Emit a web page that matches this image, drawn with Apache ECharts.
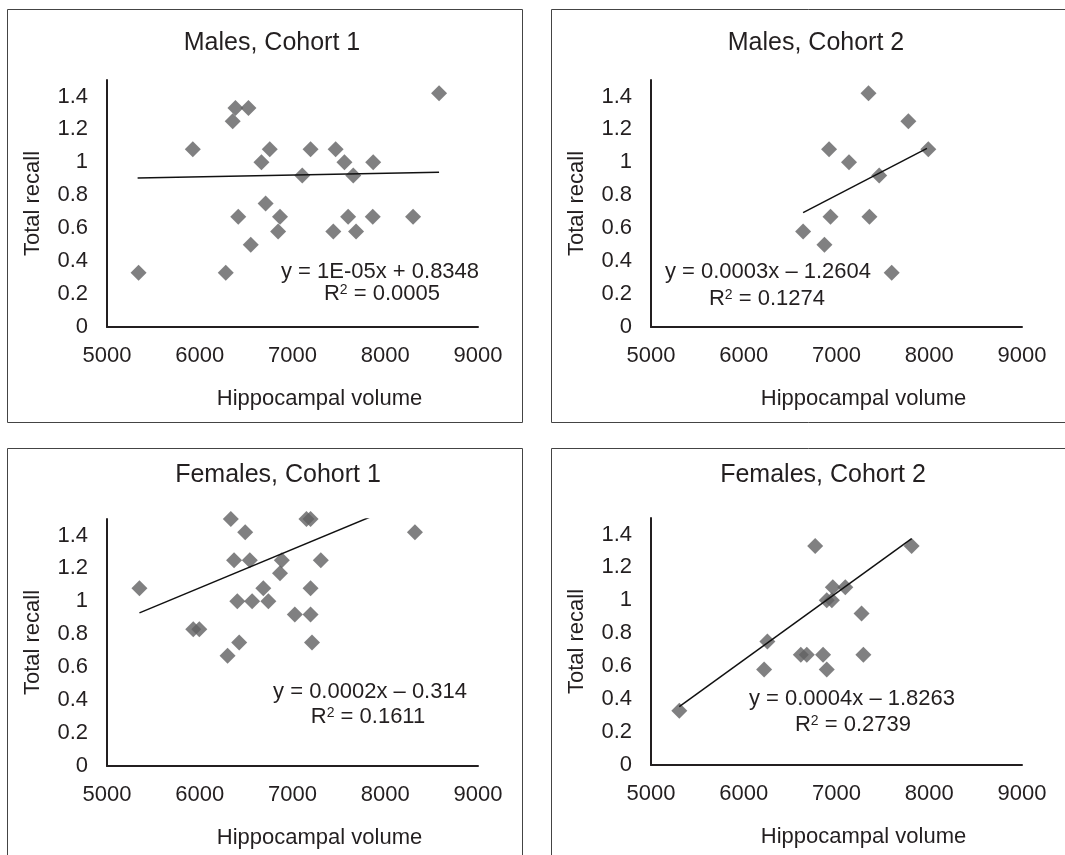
<!DOCTYPE html>
<html>
<head>
<meta charset="utf-8">
<script src="https://cdn.jsdelivr.net/npm/echarts@6/dist/echarts.min.js"></script>
<style>
html,body{margin:0;padding:0;background:#fff;}
#chart{width:1065px;height:855px;}
</style>
</head>
<body>
<div id="chart"></div>
<script>
// ---- Data ----
const panelTitles = ['Males, Cohort 1', 'Males, Cohort 2', 'Females, Cohort 1', 'Females, Cohort 2'];
const xAxisName = 'Hippocampal volume';
const yAxisName = 'Total recall';

const males1 = [[5340,0.33],[6280,0.33],[5925,1.08],[6385,1.33],[6525,1.33],[6355,1.25],[8580,1.42],[6755,1.08],[6665,1.0],[7195,1.08],[7465,1.08],[7560,1.0],[7870,1.0],[7105,0.92],[7655,0.92],[6710,0.75],[6415,0.67],[6865,0.67],[7600,0.67],[7865,0.67],[8300,0.67],[6845,0.58],[7440,0.58],[7685,0.58],[6550,0.5]];
const males2 = [[7345,1.42],[7775,1.25],[7990,1.08],[6920,1.08],[7135,1.0],[7460,0.92],[6935,0.67],[7355,0.67],[6640,0.58],[6870,0.5],[7595,0.33]];
const females1 = [[5350,1.08],[6335,1.5],[6490,1.42],[7150,1.5],[7195,1.5],[8320,1.42],[6370,1.25],[6540,1.25],[6885,1.25],[7305,1.25],[6865,1.17],[6685,1.08],[7195,1.08],[6405,1.0],[6565,1.0],[6740,1.0],[7025,0.92],[7195,0.92],[5930,0.83],[5995,0.83],[6425,0.75],[7210,0.75],[6300,0.67]];
const females2 = [[5305,0.33],[6770,1.33],[7810,1.33],[6960,1.08],[7095,1.08],[6895,1.0],[6950,1.0],[7270,0.92],[6255,0.75],[6615,0.67],[6680,0.67],[6855,0.67],[7290,0.67],[6220,0.58],[6895,0.58]];

// trend line end points
const males1Trend = [[5330,0.905],[8580,0.94]];
const males2Trend = [[6640,0.695],[7975,1.085]];
const females1Trend = [[5350,0.93],[8320,1.625]];
const females2Trend = [[5305,0.355],[7810,1.375]];

const equations = ['y = 1E-05x + 0.8348', 'y = 0.0003x \u2013 1.2604', 'y = 0.0002x \u2013 0.314', 'y = 0.0004x \u2013 1.8263'];
const rSquared = ['0.0005', '0.1274', '0.1611', '0.2739'];

const xMin = 5000, xMax = 9000, xStep = 1000;
const yMin = 0, yMax = 1.5, yStep = 0.2;

// ---- Layout ----
const FONT = '"Liberation Sans", Arial, Helvetica, sans-serif';
const TXT = '#231f20';
const MARK = '#606062';
const grids = [
  {left:107, top:80, width:371, height:247},
  {left:651, top:80, width:371, height:247},
  {left:107, top:519, width:371, height:247},
  {left:651, top:518, width:371, height:247}
];
const boxes = [
  {x:7.5, y:9.5, w:515, h:413},
  {x:551.5, y:9.5, w:530, h:413},
  {x:7.5, y:448.5, w:515, h:430},
  {x:551.5, y:448.5, w:530, h:430}
];
const titlePos = [[272,43],[816,43],[278,475],[823,475]];
const eqPos = [[380,272],[768,272],[370,692],[852,699]];
const r2Pos = [[382,294],[767,299],[368,717],[853,725]];

const scatterData = [males1, males2, females1, females2];
const trendData = [males1Trend, males2Trend, females1Trend, females2Trend];

const xAxes = [], yAxes = [], series = [], titles = [], graphics = [];
for (let i = 0; i < 4; i++) {
  xAxes.push({
    type:'value', gridIndex:i, min:xMin, max:xMax, interval:xStep,
    axisLine:{show:true, onZero:false, lineStyle:{color:TXT, width:2}},
    axisTick:{show:false}, splitLine:{show:false},
    axisLabel:{fontSize:22, color:TXT, fontFamily:FONT, margin:18, showMaxLabel:true, showMinLabel:true,
      formatter:function(v){ return String(v); }},
    name:xAxisName, nameLocation:'middle', nameGap:61,
    nameTextStyle:{fontSize:22, color:TXT, fontFamily:FONT, padding:[0,0,0,54]}
  });
  yAxes.push({
    type:'value', gridIndex:i, min:yMin, max:yMax, interval:yStep,
    axisLine:{show:true, onZero:false, lineStyle:{color:TXT, width:2}},
    axisTick:{show:false}, splitLine:{show:false},
    axisLabel:{fontSize:22, color:TXT, fontFamily:FONT, margin:19,
      formatter:function(v){ return v > 1.45 ? '' : String(Math.round(v*10)/10); }},
    name:yAxisName, nameLocation:'middle', nameGap:63,
    nameTextStyle:{fontSize:22, color:TXT, fontFamily:FONT}
  });
  series.push({
    type:'scatter', xAxisIndex:i, yAxisIndex:i, data:scatterData[i],
    symbol:'diamond', symbolSize:16, clip:false,
    itemStyle:{color:MARK}, z:3
  });
  series.push({
    type:'line', xAxisIndex:i, yAxisIndex:i, data:trendData[i],
    symbol:'none', clip:true, lineStyle:{color:'#111', width:1.5}, z:4, silent:true
  });
  titles.push({
    text:panelTitles[i], left:titlePos[i][0], top:titlePos[i][1], padding:0,
    textAlign:'center', textVerticalAlign:'middle',
    textStyle:{fontSize:25, fontWeight:'normal', color:TXT, fontFamily:FONT}
  });
  graphics.push({
    type:'rect', shape:{x:boxes[i].x, y:boxes[i].y, width:boxes[i].w, height:boxes[i].h},
    style:{fill:'none', stroke:'#444', lineWidth:1}, z:-1, silent:true
  });
  graphics.push({
    type:'text', x:eqPos[i][0], y:eqPos[i][1], z:10,
    style:{text:equations[i], fill:TXT, font:'22px ' + FONT, align:'center', verticalAlign:'middle'}
  });
  graphics.push({
    type:'text', x:r2Pos[i][0], y:r2Pos[i][1], z:10,
    style:{text:'R{sup|2} = ' + rSquared[i], fill:TXT, font:'22px ' + FONT, align:'center', verticalAlign:'middle',
      rich:{sup:{fontSize:14, fontFamily:FONT, fill:TXT, verticalAlign:'top', lineHeight:14}}}
  });
}

const chart = echarts.init(document.getElementById('chart'), null, {renderer:'canvas'});
chart.setOption({
  backgroundColor:'#ffffff',
  animation:false,
  title:titles,
  grid:grids,
  xAxis:xAxes,
  yAxis:yAxes,
  series:series,
  graphic:graphics
});
</script>
</body>
</html>
